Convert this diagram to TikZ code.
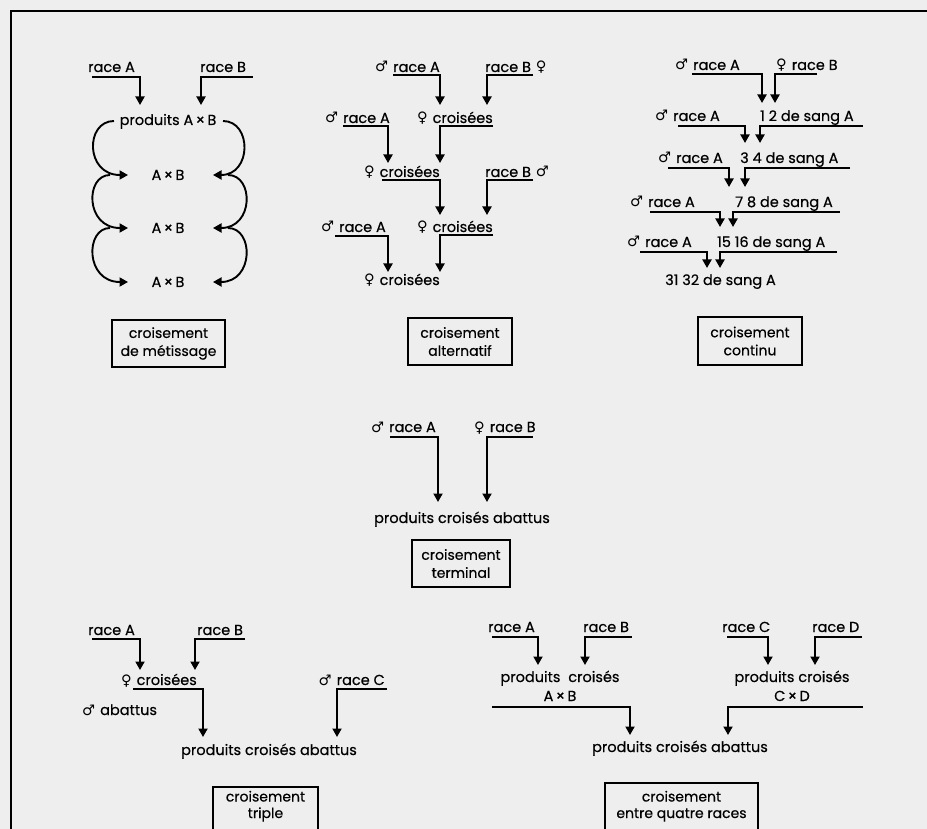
\documentclass[tikz,border=0pt]{standalone}
\usepackage{fontspec}
\setmainfont{Poppins}[FakeBold=0.4]
\newfontfamily\symfont{DejaVu Sans}
\usetikzlibrary{arrows.meta}
\definecolor{bgcol}{RGB}{238,238,238}
\newcommand\mal{{\symfont ♂}\hspace{5pt}}
\newcommand\fem{{\symfont ♀}\hspace{5pt}}
\newcommand\uarr[4]{\draw[conn] (#1,#2) -- (#3,#2) -- (#3,#4);}
\begin{document}
\begin{tikzpicture}[x=1pt,y=-1pt,
  lbl/.style={inner sep=0pt,font=\fontsize{14.5}{19}\selectfont},
  conn/.style={line width=1.9pt,-{Triangle[width=9pt,length=8.5pt]}},
  boxn/.style={draw,line width=2pt,inner sep=0pt,align=center,font=\fontsize{14}{18}\selectfont},
  boxt/.style={inner sep=0pt,align=center,font=\fontsize{14}{16.5}\selectfont}]
\useasboundingbox (0,0) rectangle (927,829);
\fill[bgcol] (0,0) rectangle (927,829);
\begin{scope}
\clip (0,0) rectangle (927,829);
\draw[line width=2.5pt] (11,11) rectangle (945,850);
\draw[line width=2pt] (213,787) rectangle (318,845);
\draw[line width=2pt] (605,783) rectangle (758,845);
\end{scope}

% ---------- panel 1 : metissage
\node[lbl,anchor=base west] (p1a) at (88,72) {race A};
\node[lbl,anchor=base west] (p1b) at (200,72) {race B};
\node[lbl,anchor=base] (p1p) at (168,125) {produits A\,×\,B};
\node[lbl,anchor=base] (p1x1) at (168,180) {A\,×\,B};
\node[lbl,anchor=base] (p1x2) at (168,233) {A\,×\,B};
\node[lbl,anchor=base] (p1x3) at (168,287) {A\,×\,B};
\uarr{92}{77}{140}{105}
\uarr{253}{77}{201}{105}
\draw[conn] (114,121) .. controls (85,121) and (85,175) .. (128,175);
\draw[conn] (110,175) .. controls (85,175) and (85,228) .. (128,228);
\draw[conn] (110,228) .. controls (85,228) and (85,282) .. (128,282);
\draw[conn] (223,121) .. controls (252,121) and (252,175) .. (213,175);
\draw[conn] (228,175) .. controls (254,175) and (254,228) .. (213,228);
\draw[conn] (228,228) .. controls (254,228) and (254,282) .. (213,282);
\node[boxn,minimum width=113pt,minimum height=47pt] (b1) at (168.5,343.5) {croisement\\de métissage};

% ---------- panel 2 : alternatif
\node[lbl,anchor=base east] (a2) at (440,72) {\mal race A};
\node[lbl,anchor=base west] (b2) at (485,72) {race B\hspace{5pt}{\symfont ♀}};
\node[lbl,anchor=base east] (c2) at (493,123) {\fem croisées};
\node[lbl,anchor=base east] (d2) at (390,123) {\mal race A};
\node[lbl,anchor=base east] (e2) at (440,177) {\fem croisées};
\node[lbl,anchor=base west] (f2) at (485,177) {race B\hspace{5pt}{\symfont ♂}};
\node[lbl,anchor=base east] (g2) at (386,232) {\mal race A};
\node[lbl,anchor=base east] (h2) at (493,232) {\fem croisées};
\node[lbl,anchor=base east] (i2) at (440,285) {\fem croisées};
\uarr{393}{75}{440}{105}
\uarr{533}{75}{487}{105}
\uarr{493}{126}{440}{163}
\uarr{343}{126}{388}{163}
\uarr{382}{180}{440}{215}
\uarr{533}{180}{487}{215}
\uarr{335}{236}{388}{272}
\uarr{493}{235}{440}{272}
\node[boxn,minimum width=104pt,minimum height=47pt] (bx2) at (460,341.5) {croisement\\alternatif};

% ---------- panel 3 : continu
\node[lbl,anchor=base east] (c0a) at (740,70) {\mal race A};
\node[lbl,anchor=base west] (c0b) at (776,70) {\fem race B};
\node[lbl,anchor=base east] (c1a) at (720,121) {\mal race A};
\node[lbl,anchor=base west] (c1b) at (760,121) {1 2 de sang A};
\node[lbl,anchor=base east] (c2a) at (723,163) {\mal race A};
\node[lbl,anchor=base west] (c2b) at (740,163) {3 4 de sang A};
\node[lbl,anchor=base east] (c3a) at (695,207) {\mal race A};
\node[lbl,anchor=base west] (c3b) at (735,207) {7 8 de sang A};
\node[lbl,anchor=base east] (c4a) at (692,247) {\mal race A};
\node[lbl,anchor=base west] (c4b) at (717,247) {15 16 de sang A};
\node[lbl,anchor=base west] (c5) at (665,285) {31 32 de sang A};
\uarr{692}{74}{762}{103}
\uarr{817}{74}{775}{103}
\uarr{678}{126}{745}{143}
\uarr{863}{126}{760}{143}
\uarr{668}{168}{729}{187}
\uarr{850}{168}{745}{187}
\uarr{650}{212}{720}{227}
\uarr{840}{212}{733}{227}
\uarr{640}{252}{707}{268}
\uarr{837}{252}{720}{268}
\node[boxn,minimum width=104pt,minimum height=48pt] (bx3) at (750,341) {croisement\\continu};

% ---------- panel 4 : terminal
\node[lbl,anchor=base east] (a4) at (436,432) {\mal race A};
\node[lbl,anchor=base west] (b4) at (474,432) {\fem race B};
\node[lbl,anchor=base] (p4) at (462,523) {produits croisés abattus};
\uarr{390}{437}{438}{502}
\uarr{533}{437}{487}{502}
\node[boxn,minimum width=98pt,minimum height=47pt] (bx4) at (461,563.5) {croisement\\terminal};

% ---------- panel 5 : triple
\node[lbl,anchor=base west] (a5) at (88,635) {race A};
\node[lbl,anchor=base west] (b5) at (197,635) {race B};
\node[lbl,anchor=base east] (c5x) at (197,685) {\fem croisées};
\node[lbl,anchor=base west] (d5) at (82,715) {\mal abattus};
\node[lbl,anchor=base east] (e5) at (385,685) {\mal race C};
\node[lbl,anchor=base] (p5) at (269,755) {produits croisés abattus};
\uarr{92}{639}{140}{670}
\uarr{245}{639}{195}{670}
\uarr{133}{689}{203}{737}
\uarr{387}{689}{337}{737}
\node[boxt,anchor=base] (bx5) at (265.5,818) {croisement\\triple};

% ---------- panel 6 : quatre races
\node[lbl,anchor=base west] (a6) at (488,632) {race A};
\node[lbl,anchor=base west] (b6) at (583,632) {race B};
\node[lbl,anchor=base west] (d6) at (722,632) {race C};
\node[lbl,anchor=base west] (e6) at (812,632) {race D};
\node[lbl,anchor=base,align=center] (c6) at (560,701) {produits\hspace{4pt} croisés\\A\,×\,B};
\node[lbl,anchor=base,align=center] (f6) at (792,701) {produits croisés\\C\,×\,D};
\node[lbl,anchor=base] (p6) at (680,752) {produits croisés abattus};
\uarr{492}{637}{538}{665}
\uarr{632}{637}{585}{665}
\uarr{727}{637}{768}{665}
\uarr{862}{637}{815}{665}
\uarr{492}{707}{630}{735}
\uarr{863}{707}{728}{735}
\node[boxt,anchor=base] (bx6) at (681.5,818) {croisement\\entre quatre races};
\end{tikzpicture}
\end{document}
